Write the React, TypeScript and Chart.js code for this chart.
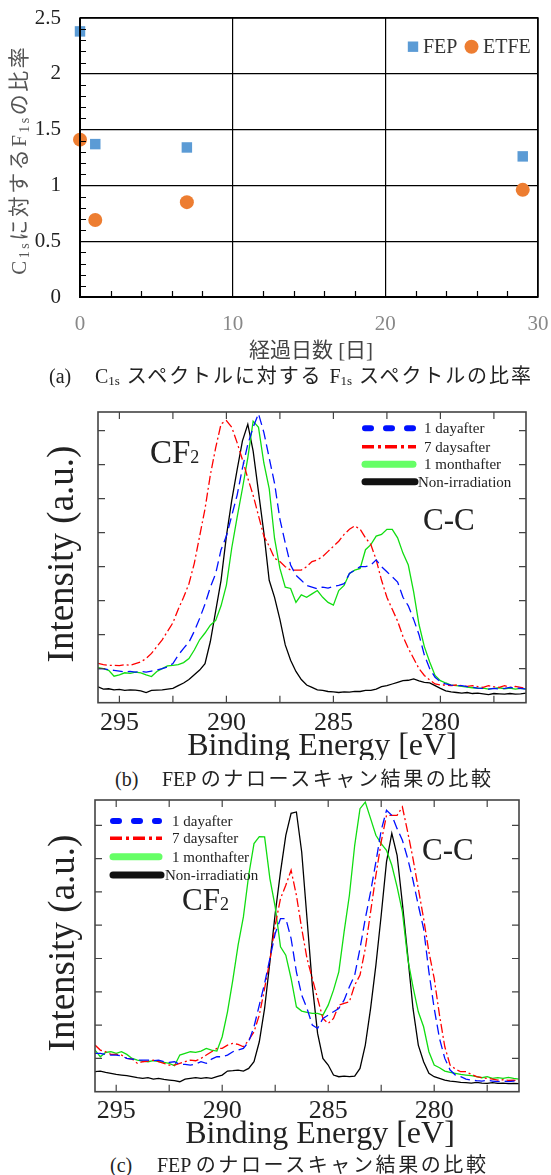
import React, { useEffect, useRef } from "react";
import { Chart, registerables } from "chart.js";

Chart.register(...registerables);

const SERIF = "'Liberation Serif', 'Noto Sans CJK JP', serif";

// ---------- (a) ratio of F1s to C1s ----------
const elapsedDays = [0, 1, 7, 29];
const ratioFEP = [2.38, 1.37, 1.34, 1.26];
const ratioETFE = [1.41, 0.69, 0.85, 0.96];
const ratioTicks = [0, 0.5, 1, 1.5, 2, 2.5];
const ratioMinorTicks = [0.1, 0.2, 0.3, 0.4, 0.6, 0.7, 0.8, 0.9, 1.1, 1.2, 1.3, 1.4, 1.6, 1.7, 1.8, 1.9, 2.1, 2.2, 2.3, 2.4];
const dayTicks = [0, 10, 20, 30];
const dayMinorTicks = [2, 4, 6, 8, 12, 14, 16, 18, 22, 24, 26, 28];
const ratioLegend = ["FEP", "ETFE"];

// ---------- (b), (c) narrow scan spectra ----------
const bindingEnergy = [
  296, 295.75, 295.5, 295.25, 295, 294.75, 294.5, 294.25, 294, 293.75,
  293.5, 293.25, 293, 292.75, 292.5, 292.25, 292, 291.75, 291.5, 291.25,
  291, 290.75, 290.5, 290.25, 290, 289.75, 289.5, 289.25, 289, 288.75,
  288.5, 288.25, 288, 287.75, 287.5, 287.25, 287, 286.75, 286.5, 286.25,
  286, 285.75, 285.5, 285.25, 285, 284.75, 284.5, 284.25, 284, 283.75,
  283.5, 283.25, 283, 282.75, 282.5, 282.25, 282, 281.75, 281.5, 281.25,
  281, 280.75, 280.5, 280.25, 280, 279.75, 279.5, 279.25, 279, 278.75,
  278.5, 278.25, 278, 277.75, 277.5, 277.25, 277, 276.75, 276.5, 276.25,
  276,
];
const energyTicks = [295, 290, 285, 280];
const energyMinorTicks = [295, 292.5, 290, 287.5, 285, 282.5, 280, 277.5];
const intensityTicks = [1, 2, 3, 4, 5, 6, 7, 8];
const seriesNames = ["1 dayafter", "7 daysafter", "1 monthafter", "Non-irradiation"];

// (b)
const b1Day = [
  1.0, 1.0, 0.97, 0.95, 0.93, 0.9, 0.92, 0.9, 0.92, 0.9,
  0.93, 0.96, 1.0, 1.05, 1.15, 1.4, 1.6, 1.78, 2.1, 2.48,
  2.9, 3.4, 3.8, 4.5, 4.9, 5.5, 6.1, 6.9, 7.6, 8.1,
  8.5, 7.95, 7.2, 6.45, 5.4, 4.7, 4.05, 3.75, 3.6, 3.45,
  3.4, 3.35, 3.4, 3.37, 3.42, 3.45, 3.5, 3.8, 3.9, 4.0,
  4.0, 4.05, 4.2, 4.0, 3.85, 3.7, 3.55, 3.1, 2.85, 2.45,
  2.0, 1.4, 1.0, 0.75, 0.62, 0.55, 0.52, 0.5, 0.5, 0.47,
  0.45, 0.43, 0.42, 0.4, 0.42, 0.4, 0.42, 0.45, 0.43, 0.42,
  0.4,
];
const b7Days = [
  1.16, 1.12, 1.1, 1.1, 1.09, 1.12, 1.1, 1.15, 1.2, 1.3,
  1.45, 1.65, 1.85, 2.1, 2.35, 2.75, 3.1, 3.5, 4.1, 4.9,
  5.7, 6.7, 7.5, 8.2, 8.3, 8.1, 7.65, 7.15, 6.6, 6.1,
  5.5, 4.9, 4.6, 4.25, 4.15, 4.0, 3.9, 3.9, 3.9, 4.0,
  4.15, 4.2, 4.3, 4.45, 4.6, 4.75, 4.95, 5.1, 5.2, 5.1,
  4.85, 4.65, 4.2, 3.6, 3.1, 2.75, 2.4, 1.95, 1.6, 1.3,
  1.0, 0.8, 0.67, 0.55, 0.52, 0.52, 0.5, 0.52, 0.5, 0.48,
  0.5, 0.47, 0.45, 0.5, 0.47, 0.45, 0.5, 0.45, 0.48, 0.45,
  0.42,
];
const b1Month = [
  1.03, 1.0, 0.95, 0.78, 0.82, 0.88, 0.86, 0.9, 0.88, 0.82,
  0.77, 0.92, 1.0, 1.08, 1.1, 1.12, 1.18, 1.3, 1.55, 1.85,
  2.05, 2.28, 2.42, 2.85, 3.46, 4.55, 5.45, 6.3, 7.2, 8.28,
  8.1, 7.05, 6.3, 4.83, 3.95, 3.4, 3.36, 2.95, 3.17, 3.1,
  3.2, 3.3, 3.1, 2.95, 2.87, 3.3, 3.45, 3.8, 3.9, 3.95,
  4.5, 4.65, 4.9, 4.95, 5.1, 5.1, 4.85, 4.4, 4.05, 3.26,
  2.3, 1.65, 1.2, 0.8, 0.65, 0.58, 0.52, 0.5, 0.48, 0.46,
  0.44, 0.42, 0.43, 0.4, 0.42, 0.44, 0.41, 0.43, 0.4, 0.42,
  0.4,
];
const bNonIrr = [
  0.47, 0.4, 0.41, 0.38, 0.39, 0.36, 0.38, 0.37, 0.35, 0.3,
  0.36, 0.37, 0.38, 0.4, 0.42, 0.5, 0.58, 0.68, 0.82, 0.96,
  1.15, 1.8, 2.7, 3.6, 4.9, 5.95, 6.85, 7.7, 8.19, 7.4,
  6.2, 5.0, 3.6, 3.1, 2.45, 1.7, 1.25, 0.92, 0.68, 0.52,
  0.45, 0.38, 0.36, 0.33, 0.32, 0.3, 0.32, 0.31, 0.33, 0.33,
  0.36, 0.36, 0.4, 0.47, 0.5, 0.55, 0.6, 0.65, 0.66, 0.7,
  0.64, 0.6, 0.58, 0.5, 0.42, 0.35, 0.32, 0.3, 0.28, 0.3,
  0.27, 0.28, 0.26, 0.24, 0.27, 0.26, 0.25, 0.27, 0.25, 0.26,
  0.28,
];

// (c)
const c1Day = [
  1.15, 1.15, 1.12, 1.1, 1.1, 1.08, 1.0, 0.98, 0.95, 0.95,
  0.95, 0.93, 0.95, 0.9, 0.88, 0.9, 0.82, 0.82, 0.8, 0.83,
  0.9, 0.85, 0.98, 1.05, 1.05, 1.1, 1.2, 1.25, 1.3, 1.5,
  1.95, 2.6, 3.25, 4.0, 4.75, 5.2, 5.2, 4.6, 3.6, 2.9,
  2.5, 2.0, 1.9, 2.2, 2.3, 2.4, 2.5, 2.75, 3.15, 3.5,
  4.3, 5.2, 6.0, 6.9, 7.85, 8.45, 8.3, 7.9, 7.55, 7.0,
  6.35, 5.6, 4.9, 3.6, 2.5, 1.6, 1.0, 0.65, 0.5, 0.45,
  0.38, 0.35, 0.33, 0.32, 0.34, 0.32, 0.3, 0.32, 0.3, 0.32,
  0.3,
];
const c7Days = [
  1.4, 1.25, 1.2, 1.12, 1.12, 1.1, 1.0, 0.98, 0.85, 0.9,
  0.92, 0.95, 0.9, 0.85, 0.8, 0.8, 0.85, 0.9, 0.95, 0.93,
  1.0, 1.1, 1.2, 1.3, 1.3, 1.4, 1.45, 1.42, 1.35, 1.55,
  1.8, 2.3, 3.1, 3.95, 5.0, 5.8, 6.2, 6.65, 5.9, 4.9,
  4.0, 3.4, 2.8, 2.2, 2.05, 2.2, 2.6, 2.65, 2.7, 3.2,
  3.5, 4.3, 5.4, 6.5, 7.5, 8.3, 8.3, 8.3, 8.55, 7.8,
  7.0, 6.1, 5.2, 4.2, 3.4, 2.3, 1.35, 0.8, 0.68, 0.6,
  0.6, 0.52, 0.45, 0.42, 0.4, 0.38, 0.35, 0.36, 0.34, 0.35,
  0.33,
];
const c1Month = [
  1.25, 1.05, 1.18, 1.2, 1.15, 1.2, 1.12, 1.0, 0.95, 0.92,
  0.9, 0.93, 0.9, 0.88, 0.85, 0.78, 1.1, 1.15, 1.2, 1.18,
  1.22, 1.3, 1.25, 1.22, 1.65, 2.4, 3.35, 4.4, 5.25, 6.5,
  7.45, 7.66, 7.65, 6.4, 5.55, 4.35, 4.1, 3.4, 2.55, 2.42,
  2.38, 2.35, 2.35, 2.3, 2.6, 3.05, 3.6, 4.8, 5.9, 7.4,
  8.5, 8.7, 8.2, 7.7, 7.45, 7.25, 6.8, 6.15, 5.4, 4.0,
  3.15, 2.4, 1.95, 1.2, 0.8, 0.72, 0.62, 0.58, 0.55, 0.52,
  0.5, 0.48, 0.45, 0.42, 0.45, 0.4, 0.42, 0.4, 0.43, 0.4,
  0.38,
];
const cNonIrr = [
  0.6, 0.62, 0.58, 0.55, 0.52, 0.5, 0.48, 0.45, 0.42, 0.4,
  0.42, 0.38, 0.4, 0.37, 0.35, 0.33, 0.3, 0.38, 0.4, 0.42,
  0.4, 0.42, 0.4, 0.45, 0.5, 0.62, 0.63, 0.65, 0.62, 0.7,
  0.9, 1.5, 2.5, 3.9, 5.35, 6.6, 7.7, 8.36, 8.4, 7.2,
  5.2, 3.2, 1.75, 1.0, 0.8, 0.5, 0.45, 0.47, 0.45, 0.47,
  0.7, 1.4, 2.5, 3.8, 5.3, 6.9, 7.76, 7.1, 5.65, 4.1,
  2.5, 1.4, 0.9, 0.55, 0.45, 0.4, 0.35, 0.32, 0.3, 0.28,
  0.27, 0.26, 0.28, 0.26, 0.25, 0.27, 0.25, 0.26, 0.24, 0.25,
  0.24,
];

const seriesStyles = [
  { color: "#0010ff", dash: [10, 5] },
  { color: "#ff0000", dash: [9, 3, 2, 3] },
  { color: "#11dd11", dash: [] as number[] },
  { color: "#000000", dash: [] as number[] },
];

type Seg = { t: string; sub?: boolean };

function richWidth(ctx: CanvasRenderingContext2D, segs: Seg[], size: number, subSize: number, spacing: number) {
  let w = 0;
  let n = 0;
  for (const s of segs) {
    ctx.font = `${s.sub ? subSize : size}px ${SERIF}`;
    for (const ch of Array.from(s.t)) {
      w += ctx.measureText(ch).width;
      n++;
    }
  }
  return w + spacing * Math.max(0, n - 1);
}

function drawRich(
  ctx: CanvasRenderingContext2D,
  segs: Seg[],
  x: number,
  y: number,
  size: number,
  subSize: number,
  subDy: number,
  spacing: number,
  align: "left" | "center"
) {
  const total = richWidth(ctx, segs, size, subSize, spacing);
  let cx = align === "center" ? x - total / 2 : x;
  ctx.textAlign = "left";
  ctx.textBaseline = "alphabetic";
  for (const s of segs) {
    ctx.font = `${s.sub ? subSize : size}px ${SERIF}`;
    for (const ch of Array.from(s.t)) {
      ctx.fillText(ch, cx, y + (s.sub ? subDy : 0));
      cx += ctx.measureText(ch).width + spacing;
    }
  }
}

// ---------- chart (a) ----------
const ratioDecor = {
  id: "ratioDecor",
  afterDraw(chart: any) {
    const { ctx, chartArea: a } = chart;
    const xs = chart.scales.x;
    const ys = chart.scales.y;
    ctx.save();
    ctx.strokeStyle = "#000";
    ctx.lineWidth = 1.2;
    ctx.beginPath();
    for (const v of ratioMinorTicks) {
      const y = Math.round(ys.getPixelForValue(v)) + 0.5;
      ctx.moveTo(a.left, y);
      ctx.lineTo(a.left + 6, y);
    }
    for (const d of dayMinorTicks) {
      const x = Math.round(xs.getPixelForValue(d)) + 0.5;
      ctx.moveTo(x, a.bottom);
      ctx.lineTo(x, a.bottom - 6);
    }
    ctx.stroke();
    ctx.lineWidth = 1.5;
    ctx.strokeRect(a.left, a.top, a.right - a.left, a.bottom - a.top);
    ctx.lineWidth = 2;
    ctx.beginPath();
    ctx.moveTo(a.left, a.top);
    ctx.lineTo(a.left, a.bottom);
    ctx.lineTo(a.right, a.bottom);
    ctx.stroke();

    // legend
    ctx.fillStyle = "#5b9bd5";
    ctx.fillRect(413 - 5.2, 46.7 - 5.2, 10.4, 10.4);
    ctx.fillStyle = "#ed7d31";
    ctx.beginPath();
    ctx.arc(471.5, 46.7, 7, 0, Math.PI * 2);
    ctx.fill();
    ctx.fillStyle = "#333";
    ctx.font = `20px ${SERIF}`;
    ctx.textAlign = "left";
    ctx.textBaseline = "middle";
    ctx.fillText(ratioLegend[0], 423, 47.5);
    ctx.fillText(ratioLegend[1], 483, 47.5);

    // x title
    ctx.fillStyle = "#444";
    ctx.font = `21px ${SERIF}`;
    ctx.textAlign = "center";
    ctx.fillText("経過日数 [日]", 311, 351);

    // y title
    ctx.fillStyle = "#555";
    ctx.translate(19, 161);
    ctx.rotate(-Math.PI / 2);
    drawRich(
      ctx,
      [{ t: "C" }, { t: "1s", sub: true }, { t: "に対する" }, { t: "F" }, { t: "1s", sub: true }, { t: "の比率" }],
      0,
      7,
      21,
      14,
      3,
      2.5,
      "center"
    );
    ctx.restore();
  },
};

function buildRatioChart(): any {
  return {
    type: "scatter",
    data: {
      datasets: [
        {
          label: ratioLegend[0],
          data: elapsedDays.map((d, i) => ({ x: d, y: ratioFEP[i] })),
          pointStyle: "rect",
          pointRadius: 7.4,
          pointBackgroundColor: "#5b9bd5",
          backgroundColor: "#5b9bd5",
          pointBorderWidth: 0,
          borderWidth: 0,
          clip: false,
        },
        {
          label: ratioLegend[1],
          data: elapsedDays.map((d, i) => ({ x: d, y: ratioETFE[i] })),
          pointStyle: "circle",
          pointRadius: 7,
          pointBackgroundColor: "#ed7d31",
          backgroundColor: "#ed7d31",
          pointBorderWidth: 0,
          borderWidth: 0,
          clip: false,
        },
      ],
    },
    options: {
      responsive: false,
      animation: false,
      devicePixelRatio: 1,
      events: [],
      layout: { padding: { left: 0, right: 13, top: 18, bottom: 0 } },
      plugins: { legend: { display: false }, tooltip: { enabled: false } },
      scales: {
        x: {
          type: "linear",
          min: 0,
          max: 30,
          afterBuildTicks: (s: any) => {
            s.ticks = dayTicks.map((v) => ({ value: v }));
          },
          afterFit: (s: any) => {
            s.height = 68;
            s.paddingLeft = 0;
            s.paddingRight = 0;
          },
          ticks: {
            font: { family: SERIF, size: 21, lineHeight: 1.2 },
            color: "#888",
            padding: 15,
            maxRotation: 0,
            autoSkip: false,
            callback: (v: any) => String(v),
          },
          grid: { color: "#000", lineWidth: 1.2, drawTicks: false },
          border: { display: false },
        },
        y: {
          min: 0,
          max: 2.5,
          afterBuildTicks: (s: any) => {
            s.ticks = ratioTicks.map((v) => ({ value: v }));
          },
          afterFit: (s: any) => {
            s.width = 80;
            s.paddingTop = 0;
            s.paddingBottom = 0;
          },
          ticks: {
            font: { family: SERIF, size: 21 },
            color: "#222",
            padding: 19,
            autoSkip: false,
            callback: (v: any) => String(v),
          },
          grid: { color: "#000", lineWidth: 1.2, drawTicks: false },
          border: { display: false },
        },
      },
    },
    plugins: [ratioDecor],
  };
}

// ---------- charts (b), (c) ----------
type SpecLayout = {
  height: number;
  left: number;
  right: number;
  top: number;
  bottom: number;
  ymax: number;
  tickPad: number;
  legX0: number;
  legX1: number;
  legTextX: number;
  legNonX: number;
  legRows: number[];
  cf: [number, number, number];
  cc: [number, number, number];
  xTitle: [number, number];
  yTitle: [number, number];
};

function drawLegendSample(ctx: CanvasRenderingContext2D, k: number, x0: number, x1: number, y: number) {
  ctx.save();
  ctx.beginPath();
  if (k === 0) {
    ctx.strokeStyle = "#0010ff";
    ctx.lineWidth = 6;
    ctx.lineCap = "round";
    ctx.setLineDash([6, 15]);
    ctx.moveTo(x0 + 3, y);
    ctx.lineTo(x1 - 3, y);
  } else if (k === 1) {
    ctx.strokeStyle = "#ff0000";
    ctx.lineWidth = 3.5;
    ctx.lineCap = "butt";
    ctx.setLineDash([12, 4, 3, 4]);
    ctx.moveTo(x0, y);
    ctx.lineTo(x1, y);
  } else if (k === 2) {
    ctx.strokeStyle = "#66ff66";
    ctx.lineWidth = 7;
    ctx.lineCap = "round";
    ctx.moveTo(x0 + 3, y);
    ctx.lineTo(x1 - 3, y);
  } else {
    ctx.strokeStyle = "#111";
    ctx.lineWidth = 7;
    ctx.lineCap = "round";
    ctx.moveTo(x0 + 3, y);
    ctx.lineTo(x1 - 1, y);
  }
  ctx.stroke();
  ctx.restore();
}

function spectrumDecor(p: SpecLayout) {
  return {
    id: "spectrumDecor",
    afterDraw(chart: any) {
      const { ctx, chartArea: a } = chart;
      const xs = chart.scales.x;
      const ys = chart.scales.y;
      ctx.save();
      ctx.strokeStyle = "#444";
      ctx.lineWidth = 1.2;
      ctx.beginPath();
      for (const e of energyMinorTicks) {
        const x = xs.getPixelForValue(e);
        ctx.moveTo(x, a.bottom);
        ctx.lineTo(x, a.bottom - 7);
        ctx.moveTo(x, a.top);
        ctx.lineTo(x, a.top + 7);
      }
      for (const v of intensityTicks) {
        const y = ys.getPixelForValue(v);
        ctx.moveTo(a.left, y);
        ctx.lineTo(a.left + 7, y);
        ctx.moveTo(a.right, y);
        ctx.lineTo(a.right - 7, y);
      }
      ctx.stroke();
      ctx.lineWidth = 1.6;
      ctx.strokeRect(a.left, a.top, a.right - a.left, a.bottom - a.top);

      // legend
      seriesNames.forEach((name, k) => {
        drawLegendSample(ctx, k, p.legX0, p.legX1, p.legRows[k]);
        ctx.fillStyle = "#222";
        ctx.font = `15px ${SERIF}`;
        ctx.textAlign = "left";
        ctx.textBaseline = "middle";
        ctx.fillText(name, k === 3 ? p.legNonX : p.legTextX, p.legRows[k] + 1);
      });

      // annotations
      ctx.fillStyle = "#222";
      drawRich(ctx, [{ t: "CF" }, { t: "2", sub: true }], p.cf[0], p.cf[1], p.cf[2], 18, 0, 0, "left");
      drawRich(ctx, [{ t: "C-C" }], p.cc[0], p.cc[1], p.cc[2], 18, 0, 0, "left");

      // axis titles
      ctx.fillStyle = "#222";
      ctx.font = `32px ${SERIF}`;
      ctx.textAlign = "center";
      ctx.textBaseline = "middle";
      ctx.fillText("Binding Energy [eV]", p.xTitle[0], p.xTitle[1]);
      ctx.translate(p.yTitle[0], p.yTitle[1]);
      ctx.rotate(-Math.PI / 2);
      ctx.font = `37px ${SERIF}`;
      ctx.fillText("Intensity (a.u.)", 0, 0);
      ctx.restore();
    },
  };
}

function buildSpectrumChart(series: number[][], p: SpecLayout): any {
  return {
    type: "line",
    data: {
      datasets: series.map((s, i) => ({
        label: seriesNames[i],
        data: bindingEnergy.map((e, k) => ({ x: e, y: s[k] })),
        borderColor: seriesStyles[i].color,
        borderDash: seriesStyles[i].dash,
        borderWidth: 1.3,
        pointRadius: 0,
        tension: 0,
        fill: false,
      })),
    },
    options: {
      responsive: false,
      animation: false,
      devicePixelRatio: 1,
      events: [],
      layout: { padding: { left: p.left, right: 551 - p.right, top: p.top, bottom: 0 } },
      plugins: { legend: { display: false }, tooltip: { enabled: false } },
      scales: {
        x: {
          type: "linear",
          reverse: true,
          min: 276,
          max: 296,
          afterBuildTicks: (s: any) => {
            s.ticks = energyTicks.map((v) => ({ value: v }));
          },
          afterFit: (s: any) => {
            s.height = p.height - p.bottom;
            s.paddingLeft = 0;
            s.paddingRight = 0;
          },
          ticks: {
            font: { family: SERIF, size: 26, lineHeight: 1.2 },
            color: "#222",
            padding: p.tickPad,
            maxRotation: 0,
            autoSkip: false,
            callback: (v: any) => String(v),
          },
          grid: { display: false },
          border: { display: false },
        },
        y: { display: false, min: 0, max: p.ymax },
      },
    },
    plugins: [spectrumDecor(p)],
  };
}

const layoutB: SpecLayout = {
  height: 365,
  left: 98,
  right: 526,
  top: 17,
  bottom: 307.7,
  ymax: 8.55,
  tickPad: -3,
  legX0: 362,
  legX1: 416,
  legTextX: 424,
  legNonX: 418,
  legRows: [33.3, 51.7, 69.3, 86.7],
  cf: [150, 68, 33],
  cc: [423, 135, 31],
  xTitle: [322, 352],
  yTitle: [63, 159],
};

const layoutC: SpecLayout = {
  height: 365,
  left: 95,
  right: 519,
  top: 15,
  bottom: 306.7,
  ymax: 8.76,
  tickPad: -4,
  legX0: 110,
  legX1: 162,
  legTextX: 172,
  legNonX: 165,
  legRows: [36, 53.3, 71.7, 90],
  cf: [182, 125, 31],
  cc: [422, 75, 31],
  xTitle: [320, 350],
  yTitle: [64, 158],
};

function ChartCanvas({ top, height, build }: { top: number; height: number; build: () => any }) {
  const ref = useRef<HTMLCanvasElement>(null);
  useEffect(() => {
    const chart = new Chart(ref.current as HTMLCanvasElement, build());
    return () => chart.destroy();
  }, []);
  return (
    <canvas
      ref={ref}
      width={551}
      height={height}
      style={{ position: "absolute", left: 0, top, width: 551, height, display: "block" }}
    />
  );
}

const subStyle: React.CSSProperties = { fontSize: 13, verticalAlign: "-2px", lineHeight: 0, letterSpacing: 0 };
const latinStyle: React.CSSProperties = { letterSpacing: 0 };

function Caption({ top, labelLeft, label, textLeft, spacing, children }: any) {
  const base: React.CSSProperties = {
    position: "absolute",
    top,
    fontFamily: SERIF,
    fontSize: 20,
    lineHeight: "24px",
    color: "#222",
    whiteSpace: "nowrap",
  };
  return (
    <>
      <div style={{ ...base, left: labelLeft }}>{label}</div>
      <div style={{ ...base, left: textLeft, letterSpacing: spacing }}>{children}</div>
    </>
  );
}

export default function App() {
  return (
    <div
      style={{
        position: "absolute",
        left: 0,
        top: 0,
        width: 551,
        height: 1175,
        background: "#fff",
        overflow: "hidden",
      }}
    >
      <ChartCanvas top={0} height={365} build={buildRatioChart} />
      <Caption top={364} labelLeft={49} label="(a)" textLeft={95} spacing="1.9px">
        <span style={latinStyle}>C</span>
        <span style={subStyle}>1s</span> スペクトルに対する <span style={latinStyle}>F</span>
        <span style={subStyle}>1s</span> スペクトルの比率
      </Caption>
      <ChartCanvas top={395} height={365} build={() => buildSpectrumChart([b1Day, b7Days, b1Month, bNonIrr], layoutB)} />
      <Caption top={767} labelLeft={115} label="(b)" textLeft={162} spacing="2.6px">
        <span style={latinStyle}>FEP </span>のナロースキャン結果の比較
      </Caption>
      <ChartCanvas top={785} height={365} build={() => buildSpectrumChart([c1Day, c7Days, c1Month, cNonIrr], layoutC)} />
      <Caption top={1153} labelLeft={110} label="(c)" textLeft={157} spacing="2.6px">
        <span style={latinStyle}>FEP </span>のナロースキャン結果の比較
      </Caption>
    </div>
  );
}
